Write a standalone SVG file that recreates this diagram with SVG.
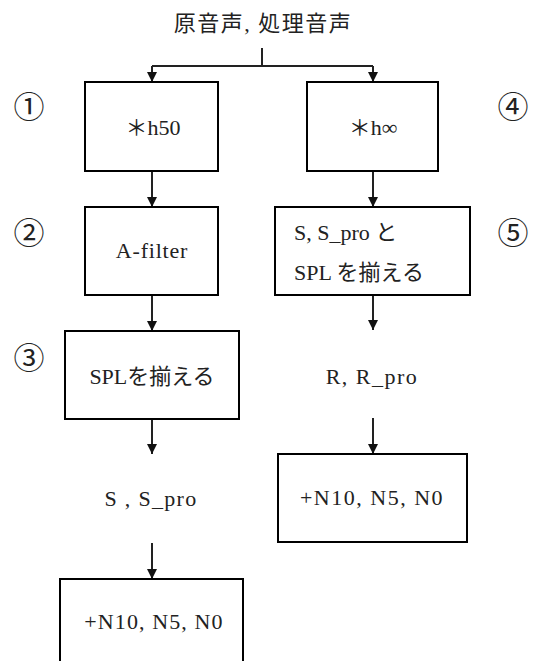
<svg xmlns="http://www.w3.org/2000/svg" width="536" height="661" viewBox="0 0 536 661">
<style>
.box{fill:#fff;stroke:#000;stroke-width:2}
.t{font-family:"Liberation Serif","Noto Sans CJK JP",serif;font-size:22px;fill:#222;text-anchor:middle}
.l{text-anchor:start}
.n{font-family:"Noto Sans CJK JP","DejaVu Sans",sans-serif;font-size:31px;fill:#222;text-anchor:middle}
.c{fill:none;stroke:#222;stroke-width:2}
</style>
<defs>
<marker id="ah" markerWidth="10" markerHeight="10" viewBox="0 0 10 10" refX="10" refY="5" orient="auto" markerUnits="userSpaceOnUse">
<path d="M0,0 L10,5 L0,10 Z" fill="#111"/>
</marker>
</defs>
<rect width="536" height="661" fill="#fff"/>
<text id="title" class="t" x="263" y="31" font-size="23" letter-spacing="1.5">原音声, 処理音声</text>
<g id="connectors">
<path class="c" d="M262,48 V66 M152,66 H373"/>
<path class="c" d="M152,66 V82" marker-end="url(#ah)"/>
<path class="c" d="M373,66 V82" marker-end="url(#ah)"/>
<path class="c" d="M152,171 V207" marker-end="url(#ah)"/>
<path class="c" d="M373,171 V207" marker-end="url(#ah)"/>
<path class="c" d="M152,295 V331" marker-end="url(#ah)"/>
<path class="c" d="M373,295 V330" marker-end="url(#ah)"/>
<path class="c" d="M152,419 V454" marker-end="url(#ah)"/>
<path class="c" d="M152,543 V579" marker-end="url(#ah)"/>
<path class="c" d="M373,418 V454" marker-end="url(#ah)"/>
</g>
<g id="n1"><rect class="box" x="85" y="82" width="133" height="89"/><text class="t" x="153" y="135">＊h50</text></g>
<g id="n4"><rect class="box" x="307" y="82" width="131" height="89"/><text class="t" x="373" y="135">＊h∞</text></g>
<g id="n2"><rect class="box" x="85" y="207" width="133" height="88"/><text class="t" x="152" y="258" font-size="23" letter-spacing="0.8">A-filter</text></g>
<g id="n5"><rect class="box" x="275" y="207" width="195" height="88"/><text class="t l" x="294" y="240">S, S_pro と</text><text class="t l" x="294" y="280">SPL を揃える</text></g>
<g id="n3"><rect class="box" x="65" y="331" width="174" height="88"/><text class="t" x="152" y="384" font-size="21">SPLを揃える</text></g>
<g id="l1"><text class="t" x="151" y="506" letter-spacing="1.3">S , S_pro</text></g>
<g id="l2"><text class="t" x="372" y="384" letter-spacing="1.5">R, R_pro</text></g>
<g id="n6"><rect class="box" x="60" y="579" width="183" height="100"/><text class="t" x="154" y="629" letter-spacing="1.1">+N10, N5, N0</text></g>
<g id="n7"><rect class="box" x="278" y="454" width="189" height="88"/><text class="t" x="372" y="505" letter-spacing="1.5">+N10, N5, N0</text></g>
<g id="labels">
<text class="n" x="29" y="118">①</text>
<text class="n" x="29" y="244">②</text>
<text class="n" x="29" y="369">③</text>
<text class="n" x="513" y="118">④</text>
<text class="n" x="513" y="244">⑤</text>
</g>
</svg>
